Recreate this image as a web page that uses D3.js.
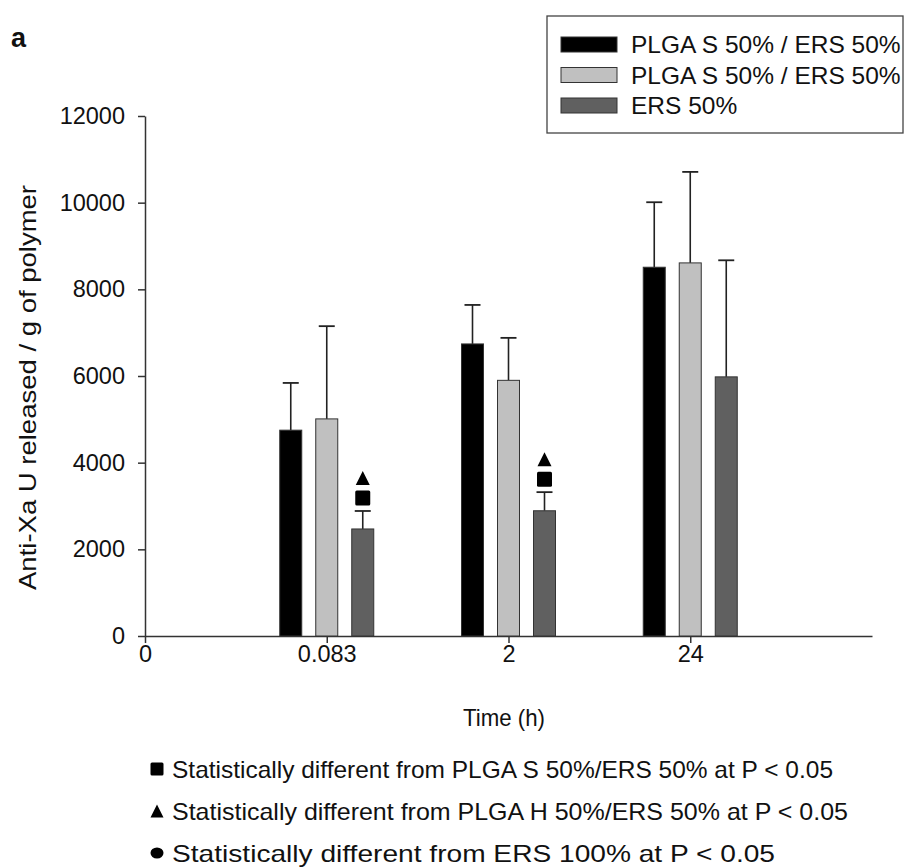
<!DOCTYPE html>
<html>
<head>
<meta charset="utf-8">
<script src="https://cdn.jsdelivr.net/npm/d3@7"></script>
<style>
  html, body { margin: 0; padding: 0; background: #fff; }
  svg { display: block; font-family: "Liberation Sans", Arial, sans-serif; }
</style>
</head>
<body>
<svg id="chart" width="906" height="867"></svg>
<script>
// ---- data ----
const tickLabelsX = ["0", "0.083", "2", "24"];
const categories = ["0.083", "2", "24"];
const seriesNames = ["PLGA S 50% / ERS 50%", "PLGA S 50% / ERS 50%", "ERS 50%"];
const seriesColors = ["#000000", "#c0c0c0", "#606060"];
const plgaS = [4750, 6740, 8510];
const plgaSErr = [1090, 900, 1500];
const plgaH = [5010, 5900, 8610];
const plgaHErr = [2140, 980, 2100];
const ers = [2470, 2890, 5980];
const ersErr = [415, 430, 2690];
const yTicks = [0, 2000, 4000, 6000, 8000, 10000, 12000];
// significance markers: [category index, series index, symbols]
const sigMarkers = [
  { cat: 0, series: 2, symbols: ["square", "triangle"] },
  { cat: 1, series: 2, symbols: ["square", "triangle"] }
];
const footnotes = [
  { symbol: "square", text: "Statistically different from PLGA S 50%/ERS 50% at P < 0.05" },
  { symbol: "triangle", text: "Statistically different from PLGA H 50%/ERS 50% at P < 0.05" },
  { symbol: "circle", text: "Statistically different from ERS 100% at P < 0.05" }
];

const values = [plgaS, plgaH, ers];
const errors = [plgaSErr, plgaHErr, ersErr];

// ---- layout ----
const svg = d3.select("#chart");
const x = d3.scaleLinear().domain([0, 4]).range([145, 872]);
const y = d3.scaleLinear().domain([0, 12000]).range([636, 116]);
const barW = 22, barStep = 36;

// axes
const yAxis = svg.append("g").attr("transform", `translate(${x(0)},0)`)
  .call(d3.axisLeft(y).tickValues(yTicks).tickSize(7).tickSizeOuter(0).tickPadding(13).tickFormat(d3.format("d")));
const xAxis = svg.append("g").attr("transform", `translate(0,${y(0)})`)
  .call(d3.axisBottom(x).tickValues([0, 1, 2, 3]).tickSize(7).tickSizeOuter(0).tickPadding(2)
    .tickFormat((d, i) => tickLabelsX[i]));
[yAxis, xAxis].forEach(g => {
  g.select(".domain").attr("stroke", "#333").attr("stroke-width", 1.5);
  g.selectAll(".tick line").attr("stroke", "#333").attr("stroke-width", 1.5);
  g.selectAll(".tick text").attr("fill", "#111").attr("font-size", 23.5)
    .attr("font-family", "Liberation Sans, Arial, sans-serif");
});

// bars
const bars = [];
categories.forEach((c, ci) => {
  values.forEach((vals, si) => {
    bars.push({ ci, si, v: vals[ci], e: errors[si][ci] });
  });
});
const cx = d => x(d.ci + 1) + (d.si - 1) * barStep;

const eg = svg.append("g");
eg.selectAll("line.err").data(bars).join("line")
  .attr("x1", cx).attr("x2", cx)
  .attr("y1", d => y(d.v)).attr("y2", d => y(d.v + d.e))
  .attr("stroke", "#222").attr("stroke-width", 1.6);
eg.selectAll("line.cap").data(bars).join("line")
  .attr("x1", d => cx(d) - 8).attr("x2", d => cx(d) + 8)
  .attr("y1", d => y(d.v + d.e)).attr("y2", d => y(d.v + d.e))
  .attr("stroke", "#222").attr("stroke-width", 1.8);

svg.append("g").selectAll("rect").data(bars).join("rect")
  .attr("x", d => cx(d) - barW / 2).attr("width", barW)
  .attr("y", d => y(d.v)).attr("height", d => y(0) - y(d.v))
  .attr("fill", d => seriesColors[d.si]).attr("stroke", "#333").attr("stroke-width", 1);

// significance markers
function drawSymbol(g, type, cxp, cyp, s) {
  if (type === "square") {
    g.append("rect").attr("x", cxp - s / 2).attr("y", cyp - s / 2).attr("width", s).attr("height", s)
      .attr("rx", 1.5).attr("fill", "#000");
  } else if (type === "triangle") {
    g.append("path").attr("d", `M${cxp},${cyp - s / 2}L${cxp + s / 2},${cyp + s / 2}L${cxp - s / 2},${cyp + s / 2}Z`)
      .attr("fill", "#000");
  } else {
    g.append("ellipse").attr("cx", cxp).attr("cy", cyp).attr("rx", s / 2).attr("ry", s / 2 * 0.85).attr("fill", "#000");
  }
}
const mg = svg.append("g");
sigMarkers.forEach(m => {
  const b = bars.find(d => d.ci === m.cat && d.si === m.series);
  const top = y(b.v + b.e);
  m.symbols.forEach((s, k) => {
    drawSymbol(mg, s, cx(b), top - 13 - k * 20, s === "square" ? 15 : 14);
  });
});

// axis titles
svg.append("text").attr("x", 463).attr("y", 726)
  .attr("font-size", 24).attr("fill", "#111")
  .attr("textLength", 82).attr("lengthAdjust", "spacingAndGlyphs").text("Time (h)");
svg.append("text").attr("transform", "translate(36,590) rotate(-90)")
  .attr("font-size", 24).attr("fill", "#111")
  .attr("textLength", 405).attr("lengthAdjust", "spacingAndGlyphs").text("Anti-Xa U released / g of polymer");

// panel label
svg.append("text").attr("x", 11).attr("y", 47).attr("font-size", 27).attr("font-weight", "bold")
  .attr("fill", "#111").text("a");

// legend
const lg = svg.append("g");
lg.append("rect").attr("x", 547).attr("y", 16).attr("width", 356).attr("height", 117)
  .attr("fill", "#fff").attr("stroke", "#444").attr("stroke-width", 1.3);
seriesNames.forEach((n, i) => {
  const cy = 44.5 + i * 30.5;
  lg.append("rect").attr("x", 561).attr("y", cy - 7.5).attr("width", 56).attr("height", 15)
    .attr("fill", seriesColors[i]).attr("stroke", "#333").attr("stroke-width", 1);
  lg.append("text").attr("x", 631).attr("y", cy + 8.5).attr("font-size", 24.5).attr("fill", "#111").text(n);
});

// footnotes
const fg = svg.append("g");
const fnSpans = [661, 676, 603];
footnotes.forEach((f, i) => {
  const cy = 769 + i * 42;
  drawSymbol(fg, f.symbol, 157, cy, 13);
  fg.append("text").attr("x", 172).attr("y", cy + 8.5).attr("font-size", 24).attr("fill", "#111")
    .attr("textLength", fnSpans[i]).attr("lengthAdjust", "spacingAndGlyphs").text(f.text);
});
</script>
</body>
</html>
